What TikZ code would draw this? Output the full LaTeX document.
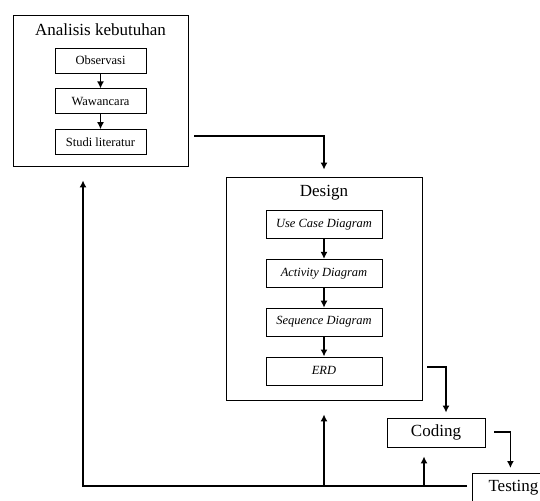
\documentclass[tikz,border=0pt]{standalone}
\usepackage{fontspec}
\setmainfont{Liberation Serif}
\usetikzlibrary{positioning,arrows.meta}

\begin{document}
\begin{tikzpicture}[
                        x=1pt, y=-1pt,
                        node distance=15pt,
                        >={Latex[length=7pt,width=7pt]},
                        grup/.style={rectangle, draw, line width=0.8pt},
                        blok/.style={rectangle, draw, line width=0.8pt, minimum width=91pt, minimum height=25pt, font=\fontsize{12.5}{15}\selectfont},
                        blokD/.style={blok, minimum width=116pt, minimum height=28pt, font=\fontsize{12.5}{15}\selectfont\itshape},
                        judul/.style={font=\fontsize{17}{20}\selectfont},
                        panah/.style={->, line width=1.8pt}
                    ]
                    \useasboundingbox (0,0) rectangle (540,500);
                    \clip (0,0) rectangle (540,500);
                    % Blocks
                    \node [grup, minimum width=175pt, minimum height=151pt] (analisis) at (100.5,90.5) {};
                    \node [judul] (judulA) at ([yshift=-15pt]analisis.north) {Analisis kebutuhan};
                    \node [blok, below=33pt of analisis.north] (obs) {Observasi};
                    \node [blok, below=of obs] (waw) {Wawancara};
                    \node [blok, below=of waw] (studi) {Studi literatur};

                    \node [grup, minimum width=196pt, minimum height=223pt] (design) at (324,288.5) {};
                    \node [judul] (judulD) at ([yshift=-16pt]design.north) {Design};
                    \node [blokD, below=33.5pt of design.north] (usecase) {Use Case Diagram};
                    \node [blokD, below=20pt of usecase] (activity) {Activity Diagram};
                    \node [blokD, below=20pt of activity] (sequence) {Sequence Diagram};
                    \node [blokD, below=20pt of sequence] (erd) {ERD};

                    \node [grup, judul, minimum width=98pt, minimum height=29pt] (coding) at (436,432.5) {Coding};
                    \node [grup, judul, minimum width=82pt, minimum height=28pt, anchor=north west] (testing) at (472,473) {Testing};

                    \coordinate (keDesign) at (194,136);
                    \coordinate (keCoding) at (427,367);
                    \coordinate (keTesting) at (494,432);
                    \coordinate (balik) at (467,486);

                    % Connections
                    \draw [panah] (obs) -- (waw);
                    \draw [panah] (waw) -- (studi);
                    \draw [panah] (usecase) -- (activity);
                    \draw [panah] (activity) -- (sequence);
                    \draw [panah] (sequence) -- (erd);
                    \draw [panah, shorten >=7pt] (keDesign) -| (design.north);
                    \draw [panah, shorten >=5pt] (keCoding) -| ([xshift=10pt]coding.north);
                    \draw [panah, shorten >=5pt] (keTesting) -| ([xshift=-3pt]testing.north);
                    \draw [panah, shorten >=14pt] (balik) -| ([xshift=-17.5pt]analisis.south);
                    \draw [panah, shorten >=14pt] (design.south |- balik) -- (design.south);
                    \draw [panah, shorten >=9pt] ([xshift=-12pt]coding.south |- balik) -- ([xshift=-12pt]coding.south);
                \end{tikzpicture}
\end{document}
